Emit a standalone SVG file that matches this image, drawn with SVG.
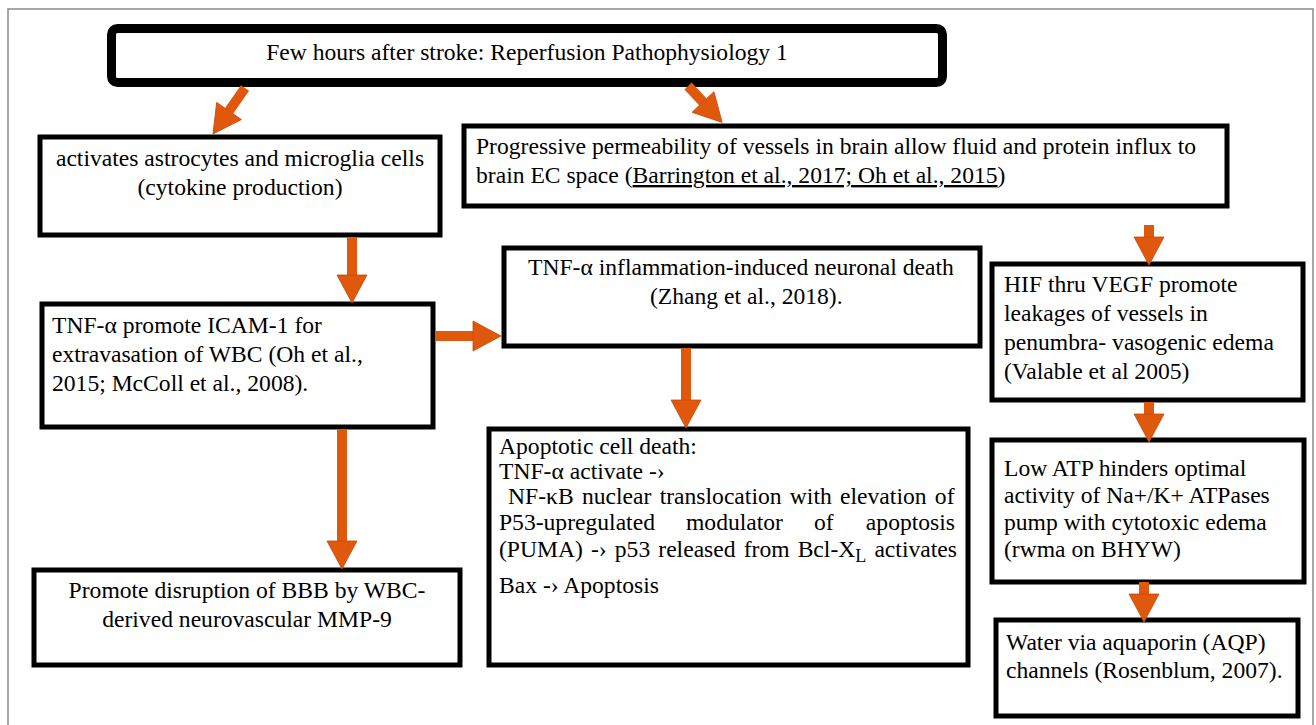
<svg xmlns="http://www.w3.org/2000/svg" width="1316" height="725" viewBox="0 0 1316 725">
<defs>
<style>
.bx{fill:#fff;stroke:#000;stroke-width:5}
.t{font-family:"Liberation Serif","Times New Roman",serif;font-size:23.6px;fill:#000}
.c{text-anchor:middle}
.ar{stroke:#E0580C;stroke-width:10;fill:none}
</style>
<marker id="ah" markerUnits="userSpaceOnUse" markerWidth="30" markerHeight="30" viewBox="0 0 28 30" refX="0" refY="15" orient="auto" overflow="visible">
<path d="M0,0 L28,15 L0,30 Z" fill="#E0580C" stroke="#C44A08" stroke-width="0.8"/>
</marker>
</defs>
<rect x="0" y="0" width="1316" height="725" fill="#fff"/>
<path d="M8,725 V9 H1313 V725" fill="none" stroke="#8a8a8a" stroke-width="1.5"/>

<g id="n-title" font-family="Liberation Serif, serif">
<rect x="111.5" y="28.5" width="831" height="54" rx="6" fill="#fff" stroke="#000" stroke-width="9"/>
<text class="t c" x="527" y="60">Few hours after stroke: Reperfusion Pathophysiology 1</text>
</g>

<g id="n-activates" font-family="Liberation Serif, serif">
<rect class="bx" x="40" y="137" width="400" height="98"/>
<text class="t c" x="240" y="166">activates astrocytes and microglia cells</text>
<text class="t c" x="240" y="195">(cytokine production)</text>
</g>

<g id="n-progressive" font-family="Liberation Serif, serif">
<rect class="bx" x="464" y="126" width="763" height="80"/>
<text class="t" x="476" y="154">Progressive permeability of vessels in brain allow fluid and protein influx to</text>
<text class="t" x="476" y="183">brain EC space (<tspan text-decoration="underline">Barrington et al., 2017; Oh et al., 2015</tspan>)</text>
</g>

<g id="n-icam" font-family="Liberation Serif, serif">
<rect class="bx" x="42" y="304" width="391" height="123"/>
<text class="t" x="52" y="333">TNF-α promote ICAM-1 for</text>
<text class="t" x="52" y="362">extravasation of WBC (Oh et al.,</text>
<text class="t" x="52" y="391">2015; McColl et al., 2008).</text>
</g>

<g id="n-tnf" font-family="Liberation Serif, serif">
<rect class="bx" x="504" y="248" width="476" height="98"/>
<text class="t" x="528" y="275">TNF-α inflammation-induced neuronal death</text>
<text class="t" x="650" y="304">(Zhang et al., 2018).</text>
</g>

<g id="n-hif" font-family="Liberation Serif, serif">
<rect class="bx" x="992" y="264" width="311" height="136"/>
<text class="t" x="1004" y="292">HIF thru VEGF promote</text>
<text class="t" x="1004" y="321">leakages of vessels in</text>
<text class="t" x="1004" y="350">penumbra- vasogenic edema</text>
<text class="t" x="1004" y="379">(Valable et al 2005)</text>
</g>

<g id="n-promote" font-family="Liberation Serif, serif">
<rect class="bx" x="34" y="570" width="426" height="95"/>
<text class="t c" x="247" y="598">Promote disruption of BBB by WBC-</text>
<text class="t c" x="247" y="627">derived neurovascular MMP-9</text>
</g>

<g id="n-apoptotic" font-family="Liberation Serif, serif">
<rect class="bx" x="489" y="429" width="479" height="236"/>
<text class="t" x="499" y="454">Apoptotic cell death:</text>
<text class="t" x="499" y="479">TNF-α activate -›</text>
<text class="t" x="508" y="504" word-spacing="2.4">NF-κB nuclear translocation with elevation of</text>
<text class="t" x="499" y="530">P53-upregulated</text>
<text class="t" x="686" y="530">modulator</text>
<text class="t" x="814" y="530">of</text>
<text class="t" x="955" y="530" text-anchor="end">apoptosis</text>
<text class="t" x="499" y="557" word-spacing="2.2">(PUMA) -› p53 released from Bcl-X<tspan dy="5" font-size="18">L</tspan><tspan dy="-5"> activates</tspan></text>
<text class="t" x="499" y="593">Bax -› Apoptosis</text>
</g>

<g id="n-lowatp" font-family="Liberation Serif, serif">
<rect class="bx" x="992" y="440" width="312" height="142"/>
<text class="t" x="1004" y="476">Low ATP hinders optimal</text>
<text class="t" x="1004" y="503">activity of Na+/K+ ATPases</text>
<text class="t" x="1004" y="530">pump with cytotoxic edema</text>
<text class="t" x="1004" y="557">(rwma on BHYW)</text>
</g>

<g id="n-water" font-family="Liberation Serif, serif">
<rect class="bx" x="996" y="620" width="302" height="96"/>
<text class="t" x="1006" y="650">Water via aquaporin (AQP)</text>
<text class="t" x="1006" y="678">channels (Rosenblum, 2007).</text>
</g>

<g id="connectors">
<line class="ar" x1="245" y1="88" x2="229" y2="111" marker-end="url(#ah)"/>
<line class="ar" x1="688" y1="86" x2="703" y2="102" marker-end="url(#ah)"/>
<line class="ar" x1="352" y1="237" x2="352" y2="275" marker-end="url(#ah)"/>
<line class="ar" x1="435" y1="336" x2="473" y2="336" marker-end="url(#ah)"/>
<line class="ar" x1="342" y1="429" x2="342" y2="541" marker-end="url(#ah)"/>
<line class="ar" x1="686" y1="348" x2="686" y2="400" marker-end="url(#ah)"/>
<line class="ar" x1="1149" y1="225" x2="1149" y2="237" marker-end="url(#ah)"/>
<line class="ar" x1="1149" y1="402" x2="1149" y2="414" marker-end="url(#ah)"/>
<line class="ar" x1="1144" y1="582" x2="1144" y2="594" marker-end="url(#ah)"/>
</g>
</svg>
